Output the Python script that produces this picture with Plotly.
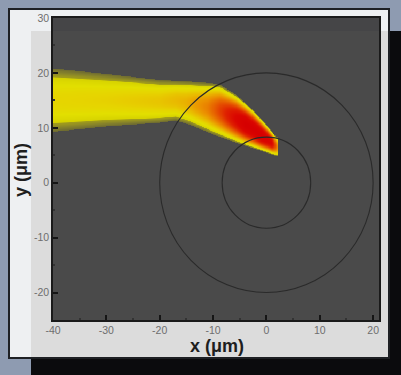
import numpy as np
import plotly.graph_objects as go

# ---- data ----
# beam upper and lower edges (x, y in micrometres)
top_x = [-40, -30, -20, -14, -10, -8.8, -5.7, -2.6, 0.0, 1.7, 2.1]
top_y = [20.8, 19.8, 18.7, 18.4, 18.1, 17.9, 16.0, 13.3, 10.5, 8.4, 8.2]
bot_x = [-40, -30, -20, -17, -14.4, -10, -5.7, -1.9, 2.1]
bot_y = [9.2, 10.2, 10.9, 11.3, 10.5, 8.7, 7.2, 6.0, 4.7]
# beam peak intensity along x (normalised)
amp_x = [-40, -30, -20, -15, -11, -7, -4, -1, 1.0, 2.1]
amp_v = [0.36, 0.38, 0.42, 0.48, 0.6, 0.84, 1.0, 1.0, 0.9, 0.55]
tip_x = 2.1
# circle radii (centred at origin)
circle_r = [8.3, 20.0]
# ticks
x_ticks = [-40, -30, -20, -10, 0, 10, 20]
y_ticks = [-20, -10, 0, 10, 20, 30]
x_ticktext = ["-40", "-30", "-20", "-10", "0", "10", "20"]
y_ticktext = ["-20", "-10", "0", "10", "20", "30"]
x_title = "x (μm)"
y_title = "y (μm)"

# ---- field on grid ----
gx = np.arange(-40, 2.2001, 0.1)
gy = np.arange(4.0, 22.0001, 0.1)
X, Y = np.meshgrid(gx, gy)
top = np.interp(X, top_x, top_y)
bot = np.interp(X, bot_x, bot_y)
t = (Y - bot) / (top - bot)
A = np.interp(X, amp_x, amp_v)
inside = (t >= 0) & (t <= 1) & (X <= tip_x)
tc = np.clip(t, 0, 1)
p = (4 * tc * (1 - tc)) ** 0.8
z = np.where(inside, A * p, np.nan)

colorscale = [
    [0.0, '#6a6732'], [0.11, '#86822a'], [0.19, '#a19c1c'], [0.205, '#d6d200'],
    [0.3, '#e2df00'], [0.37, '#e6d400'], [0.46, '#e9b800'], [0.56, '#eb8f00'],
    [0.68, '#e65a00'], [0.8, '#df2200'], [0.9, '#da0600'], [1.0, '#d60000'],
]

fig = go.Figure()
fig.add_trace(go.Heatmap(
    x=gx, y=gy, z=z, zmin=0, zmax=1, colorscale=colorscale,
    showscale=False, zsmooth=False, hoverinfo='skip'))

W, H = 401, 375
L, R, T, B = 53, 22, 18, 55
PW, PH = W - L - R, H - T - B


def fx(px):
    return (px - L) / PW


def fy(py):
    return 1 - (py - T) / PH


shapes = []


def prect(x0, y0, x1, y1, color):
    shapes.append(dict(type='rect', xref='paper', yref='paper',
                       x0=fx(x0), x1=fx(x1), y0=fy(y1), y1=fy(y0),
                       fillcolor=color, line=dict(width=0), layer='below'))


prect(31, 31, 420, 400, '#0b0b0d')
prect(8, 8, 390, 359, '#1e2024')
prect(10, 10, 388, 357, '#eef0f2')
prect(31, 31, 388, 357, '#dcdcdc')
prect(L, T, L + PW, T + PH, '#4a4a4a')
prect(L, T, L + PW, 31, '#454547')

for r in circle_r:
    shapes.append(dict(type='circle', xref='x', yref='y',
                       x0=-r, x1=r, y0=-r, y1=r,
                       line=dict(color='#2a2a2a', width=1.1), layer='above'))

tickfont = dict(family='Liberation Sans, Arial', size=10.5, color='#6e6e6e')
axis_common = dict(ticks='inside', ticklen=5, tickwidth=1.5, tickcolor='#151515',
                   showline=True, linecolor='#1a1a1a', linewidth=1.5, mirror=True,
                   showgrid=False, zeroline=False, tickfont=tickfont,
                   minor=dict(ticks='inside', ticklen=2, tickcolor='#333', dtick=5))

fig.update_layout(
    width=W, height=H, margin=dict(l=L, r=R, t=T, b=B, pad=0),
    paper_bgcolor='#8e9bb1', plot_bgcolor='rgba(0,0,0,0)',
    shapes=shapes, showlegend=False,
    xaxis=dict(range=[-40, 21.1], tickvals=x_ticks, ticktext=x_ticktext, **axis_common),
    yaxis=dict(range=[-25, 30], tickvals=y_ticks, ticktext=y_ticktext, **axis_common),
    annotations=[
        dict(text='<b>' + x_title + '</b>', xref='paper', yref='paper',
             x=fx(217), y=fy(346), showarrow=False, xanchor='center', yanchor='middle',
             font=dict(family='Liberation Sans, Arial', size=18, color='#1e1e1e')),
        dict(text='<b>' + y_title + '</b>', xref='paper', yref='paper',
             x=fx(21), y=fy(170), showarrow=False, xanchor='center', yanchor='middle',
             textangle=-90,
             font=dict(family='Liberation Sans, Arial', size=18, color='#1e1e1e')),
    ],
)

fig.write_html("out.html")
